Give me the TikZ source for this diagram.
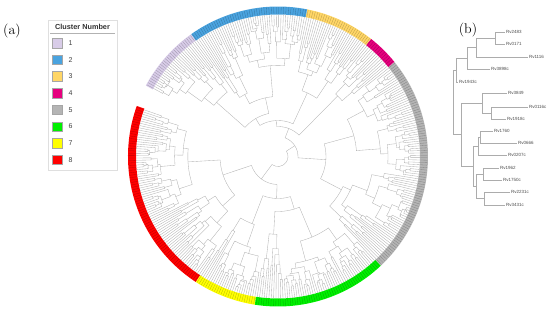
\documentclass[tikz,border=0pt]{standalone}
\usepackage{fontspec}
\newfontfamily\lsans{Liberation Sans}
\usetikzlibrary{positioning}

\definecolor{clA}{RGB}{216,204,232}
\definecolor{clB}{RGB}{74,163,223}
\definecolor{clC}{RGB}{255,214,102}
\definecolor{clD}{RGB}{230,0,126}
\definecolor{clE}{RGB}{180,180,180}
\definecolor{clF}{RGB}{0,240,0}
\definecolor{clG}{RGB}{255,255,0}
\definecolor{clH}{RGB}{255,0,0}

\tikzstyle{branch} = [draw=gray!60, line width=0.35pt]
\tikzstyle{ring} = [line width=8pt]
\tikzstyle{leaftick} = [draw=black, opacity=0.28, line width=0.3pt]
\tikzstyle{swatch} = [draw=gray!70, line width=0.3pt, minimum size=9.5pt, inner sep=0pt]
\tikzstyle{num} = [font=\lsans\fontsize{7}{8}\selectfont, inner sep=0.5pt, text=black!75]
\tikzstyle{gene} = [font=\lsans\fontsize{4.5}{5}\selectfont, inner sep=0.8pt, anchor=west, text=black!70]
\tikzstyle{edge} = [draw=gray!65, line width=0.4pt]
\tikzstyle{panel} = [font=\fontsize{14}{16}\selectfont]

\newcommand\rleaf{142}
% #1 start angle, #2 leaves, #3 node radius, #4 leaf spacing
\newcommand\subtree[4]{%
  \ifnum#2>1
    \pgfmathtruncatemacro\na{max(1,min(#2-1,round(#2*(0.15+0.7*rnd))))}%
    \pgfmathtruncatemacro\nb{#2-\na}%
    \pgfmathsetmacro\ca{#1+\na*#4/2}%
    \pgfmathsetmacro\am{#1+\na*#4}%
    \pgfmathsetmacro\cb{\am+\nb*#4/2}%
    \ifnum\na>1 \pgfmathsetmacro\ra{#3+(\rleaf-#3)*(0.08+0.32*rnd)}\else\let\ra\rleaf\fi
    \ifnum\nb>1 \pgfmathsetmacro\rb{#3+(\rleaf-#3)*(0.08+0.32*rnd)}\else\let\rb\rleaf\fi
    \draw[branch] (\ca:\ra pt) -- (\ca:#3pt) arc[start angle=\ca, end angle=\cb, radius=#3pt] -- (\cb:\rb pt);
    \edef\next{\noexpand\subtree{#1}{\na}{\ra}{#4}\noexpand\subtree{\am}{\nb}{\rb}{#4}}%
  \else
    \let\next\relax
  \fi
  \next}
\newcommand\joinpair[5]{\draw[branch] (#2:#3pt) -- (#2:#1pt) arc[start angle=#2, end angle=#4, radius=#1pt] -- (#4:#5pt);}
\newcommand\clusterarc[4]{%
  \pgfmathtruncatemacro\nn{round((#2-#1)/0.95)}%
  \pgfmathsetmacro\ss{(#2-#1)/\nn}%
  \draw[ring, #4] (#1:146pt) arc[start angle=#1, end angle=#2, radius=146pt];
  \foreach \i in {1,...,\nn}{\draw[leaftick] ({#1+(\i-0.5)*\ss}:142.5pt) -- ({#1+(\i-0.5)*\ss}:149.5pt);}
  \edef\next{\noexpand\subtree{#1}{\nn}{#3}{\ss}}\next}

\begin{document}
\begin{tikzpicture}[x=1pt, y=-1pt]
	\useasboundingbox (0,0) rectangle (550,313);
	\pgfmathsetseed{11}

	\node[panel] (pa) at (12,31) {(a)};
	\node[panel] (pb) at (468,30) {(b)};

	% legend
	\node[draw=gray!25, line width=0.3pt, minimum width=69pt, minimum height=150pt, anchor=north west] (legbox) at (48,20) {};
	\node[font=\lsans\bfseries\fontsize{7.3}{8}\selectfont, text=black!80] (legtitle) at (82.5,27) {Cluster Number};
	\draw[gray!60, line width=0.4pt] (50,33) -- (115,33);
	\foreach \k/\c in {1/clA,2/clB,3/clC,4/clD,5/clE,6/clF,7/clG,8/clH}{
		\node[swatch, fill=\c] (sw\k) at (57,{43+16.7*(\k-1)}) {};
		\node[num, right=6pt of sw\k] (num\k) {\k};
	}

	% circular tree
	\begin{scope}[shift={(278,156.5)}]
		\clusterarc{160.3}{236.8}{58}{clH}
		\clusterarc{236.8}{261.1}{72}{clG}
		\clusterarc{261.1}{313.3}{55}{clF}
		\clusterarc{313.3}{399.1}{48}{clE}
		\clusterarc{399.1}{411.7}{85}{clD}
		\clusterarc{411.7}{438.8}{70}{clC}
		\clusterarc{438.8}{485.4}{60}{clB}
		\clusterarc{485.4}{511.8}{82}{clA}
		\joinpair{42}{248.95}{72}{287.2}{55}
		\joinpair{28}{198.55}{58}{268.075}{42}
		\joinpair{44}{462.1}{60}{498.6}{82}
		\joinpair{36}{425.25}{70}{480.35}{44}
		\joinpair{30}{405.4}{85}{452.8}{36}
		\joinpair{20}{356.2}{48}{429.1}{30}
		\joinpair{10}{233.3125}{28}{392.65}{20}
	\end{scope}

	% rectangular tree
	\node[gene] (rv2483) at (505,32) {Rv2483};
	\node[gene] (rv0171) at (505,44) {Rv0171};
	\node[gene] (rv1116) at (528,57) {Rv1116};
	\node[gene] (rv3898c) at (490,69) {Rv3898c};
	\node[gene] (rv1943c) at (458,82) {Rv1943c};
	\node[gene] (rv3849) at (507,93) {Rv3849};
	\node[gene] (rv0116c) at (528,107) {Rv0116c};
	\node[gene] (rv1918c) at (506,119) {Rv1918c};
	\node[gene] (rv1760) at (493,131) {Rv1760};
	\node[gene] (rv0666) at (517,143) {Rv0666};
	\node[gene] (rv0207c) at (507,155) {Rv0207c};
	\node[gene] (rv1962) at (499,168) {Rv1962};
	\node[gene] (rv1750c) at (502,180) {Rv1750c};
	\node[gene] (rv2231c) at (510,192) {Rv2231c};
	\node[gene] (rv3431c) at (505,205) {Rv3431c};

	\coordinate (t1) at (495,38);
	\coordinate (t2) at (476,47.5);
	\coordinate (t3) at (467,58);
	\coordinate (tA) at (456,70);
	\coordinate (t4) at (491,113);
	\coordinate (tB) at (482,103);
	\coordinate (t5) at (480,137);
	\coordinate (t6) at (478,146);
	\coordinate (t7) at (483,174);
	\coordinate (t8) at (484,198.5);
	\coordinate (t9) at (476,186);
	\coordinate (tD) at (473,166);
	\coordinate (tC) at (461,134.5);
	\coordinate (troot) at (453,102);

	\draw[edge] (t1) |- (rv2483.west);
	\draw[edge] (t1) |- (rv0171.west);
	\draw[edge] (t2) |- (t1);
	\draw[edge] (t2) |- (rv1116.west);
	\draw[edge] (t3) |- (t2);
	\draw[edge] (t3) |- (rv3898c.west);
	\draw[edge] (tA) |- (t3);
	\draw[edge] (tA) |- (rv1943c.west);
	\draw[edge] (t4) |- (rv0116c.west);
	\draw[edge] (t4) |- (rv1918c.west);
	\draw[edge] (tB) |- (rv3849.west);
	\draw[edge] (tB) |- (t4);
	\draw[edge] (t5) |- (rv1760.west);
	\draw[edge] (t5) |- (rv0666.west);
	\draw[edge] (t6) |- (t5);
	\draw[edge] (t6) |- (rv0207c.west);
	\draw[edge] (t7) |- (rv1962.west);
	\draw[edge] (t7) |- (rv1750c.west);
	\draw[edge] (t8) |- (rv2231c.west);
	\draw[edge] (t8) |- (rv3431c.west);
	\draw[edge] (t9) |- (t7);
	\draw[edge] (t9) |- (t8);
	\draw[edge] (tD) |- (t6);
	\draw[edge] (tD) |- (t9);
	\draw[edge] (tC) |- (tB);
	\draw[edge] (tC) |- (tD);
	\draw[edge] (troot) |- (tA);
	\draw[edge] (troot) |- (tC);
\end{tikzpicture}
\end{document}
